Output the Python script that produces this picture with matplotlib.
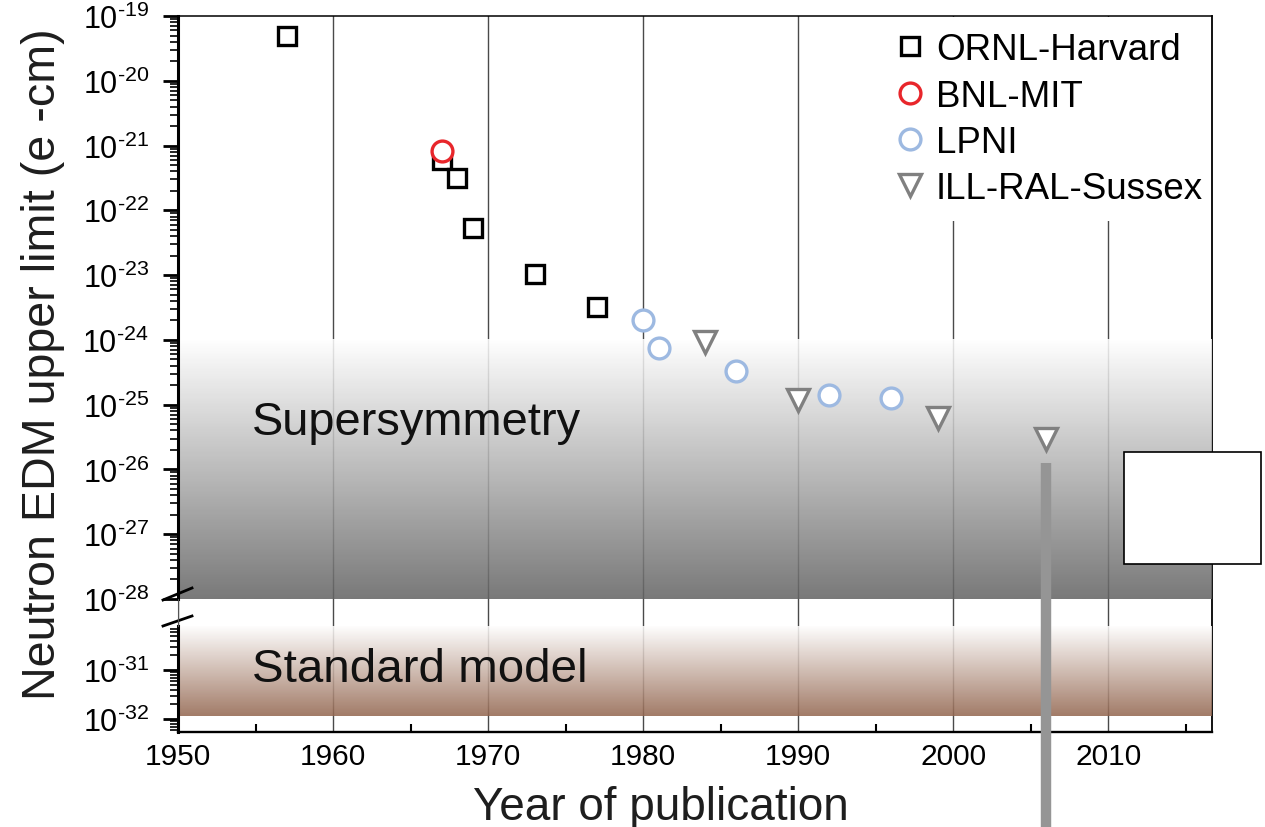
import numpy as np
import matplotlib
matplotlib.use('Agg')
import matplotlib.pyplot as plt
from matplotlib.ticker import (LogLocator, MultipleLocator, NullFormatter, FuncFormatter,
                               NullLocator, FixedLocator)
from matplotlib.patches import Rectangle
from matplotlib.lines import Line2D
from matplotlib.transforms import blended_transform_factory

MAIN = 'Liberation Sans'
plt.rcParams['font.family'] = [MAIN, 'DejaVu Sans']
plt.rcParams['mathtext.fontset'] = 'custom'
plt.rcParams['mathtext.rm'] = MAIN
plt.rcParams['mathtext.default'] = 'regular'

# ---------------- data ----------------
ornl_years = [1957, 1967, 1968, 1969, 1973, 1977]
ornl_limits = [5.0e-20, 6.0e-22, 3.2e-22, 5.3e-23, 1.05e-23, 3.2e-24]

bnl_years = [1967]
bnl_limits = [8.3e-22]

lpni_years = [1980, 1981, 1986, 1992, 1996]
lpni_limits = [2.0e-24, 7.6e-25, 3.3e-25, 1.4e-25, 1.27e-25]

ill_years = [1984, 1990, 1999, 2006]
ill_limits = [9.3e-25, 1.2e-25, 6.2e-26, 2.95e-26]

series_labels = ['ORNL-Harvard', 'BNL-MIT', 'LPNI', 'ILL-RAL-Sussex']

upper_ylim = (1e-28, 1e-19)
lower_ylim = (10 ** -32.265, 10 ** -30.10)
xlim = (1950, 2016.7)
susy_band = (1e-28, 1e-24)          # gradient: white at top -> gray at bottom
sm_band_low = 1.15e-32               # standard model band lower edge
bar_year = 2006

# ---------------- figure ----------------
W, H = 1265, 828
fig = plt.figure(figsize=(W / 100, H / 100), dpi=100)

def fx(px):
    return px / W

def fy(py):
    return 1 - py / H

L, R = 178, 1212
ax_bg = fig.add_axes([fx(L), fy(733), fx(R - L), (733 - 17) / H])
ax_up = fig.add_axes([fx(L), fy(600), fx(R - L), (600 - 17) / H], sharex=ax_bg)
ax_lo = fig.add_axes([fx(L), fy(733), fx(R - L), (733 - 627) / H], sharex=ax_bg)

# background axes: grid, x axis, frame
ax_bg.set_xlim(*xlim)
ax_bg.set_ylim(0, 1)
ax_bg.yaxis.set_major_locator(NullLocator())
ax_bg.xaxis.set_major_locator(FixedLocator(np.arange(1950, 2011, 10)))
ax_bg.xaxis.set_minor_locator(FixedLocator(np.arange(1955, 2016, 10)))
ax_bg.xaxis.set_major_formatter(FuncFormatter(lambda v, p: '%d' % v))
ax_bg.tick_params(axis='x', which='major', length=0, pad=7, labelsize=21.5, labelcolor='black')
ax_bg.tick_params(axis='x', which='minor', direction='in', length=5.5, width=1.5, color='black')
ax_bg.grid(True, axis='x', which='major', color='#4a4a4a', linewidth=1.0)
ax_bg.spines['left'].set_visible(False)
ax_bg.spines['top'].set_linewidth(1.1)
ax_bg.spines['right'].set_linewidth(1.3)
ax_bg.spines['bottom'].set_linewidth(1.7)
ax_bg.set_axisbelow(True)

def sup_fmt(v, pos):
    e = int(round(np.log10(v)))
    return r'$10^{\text{-}%d}$' % (-e)

for ax, ylim in ((ax_up, upper_ylim), (ax_lo, lower_ylim)):
    ax.set_facecolor('none')
    ax.set_yscale('log')
    ax.set_ylim(*ylim)
    for s in ('top', 'right', 'bottom'):
        ax.spines[s].set_visible(False)
    ax.spines['left'].set_linewidth(2.2)
    ax.tick_params(axis='x', which='both', bottom=False, labelbottom=False)
    e_lo = int(np.ceil(np.log10(ylim[0]) - 1e-9))
    e_hi = int(np.floor(np.log10(ylim[1]) + 1e-9))
    ax.yaxis.set_major_locator(FixedLocator(10.0 ** np.arange(e_lo, e_hi + 1)))
    ax.yaxis.set_minor_locator(LogLocator(base=10, subs=np.arange(2, 10), numticks=30))
    ax.yaxis.set_major_formatter(FuncFormatter(sup_fmt))
    ax.yaxis.set_minor_formatter(NullFormatter())
    ax.tick_params(axis='y', which='major', direction='out', length=11, width=2.0, pad=10,
                   labelsize=22, labelcolor='black')
    ax.tick_params(axis='y', which='minor', direction='out', length=6, width=1.2)

def log_frac(ax, v):
    lo, hi = np.log10(ax.get_ylim())
    return (np.log10(v) - lo) / (hi - lo)

def gradient(ax, y0, y1, color, alpha=0.86):
    n = 256
    t = np.linspace(0, 1, n)[:, None]          # 0 at top, 1 at bottom
    c = np.array(matplotlib.colors.to_rgb(color))
    rgb = (1 - t) * np.ones(3) + t * c
    img = np.concatenate([rgb, np.full((n, 1), alpha)], axis=1)[:, None, :]
    ax.imshow(img, extent=(0, 1, y0, y1), transform=ax.transAxes, aspect='auto',
              interpolation='bilinear', origin='upper', zorder=0)

gradient(ax_up, log_frac(ax_up, susy_band[0]), log_frac(ax_up, susy_band[1]), '#636363')
gradient(ax_lo, log_frac(ax_lo, sm_band_low), 1.0, '#93664f')
ax_up.set_xlim(*xlim)

# region labels
ax_up.text(0.0716, 0.283, 'Supersymmetry', transform=ax_up.transAxes, fontsize=33.8,
           ha='left', va='baseline', color='#111111')
ax_lo.text(0.0716, 0.481, 'Standard model', transform=ax_lo.transAxes, fontsize=34.2,
           ha='left', va='baseline', color='#111111')

# data series
mew = 2.4
h1, = ax_up.plot(ornl_years, ornl_limits, ls='none', marker='s', ms=13.5, mew=mew,
                 mfc='white', mec='black', zorder=4)
h2, = ax_up.plot(bnl_years, bnl_limits, ls='none', marker='o', ms=15, mew=mew,
                 mfc='white', mec='#e8262b', zorder=5)
h3, = ax_up.plot(lpni_years, lpni_limits, ls='none', marker='o', ms=15, mew=mew,
                 mfc='white', mec='#9db9e1', zorder=4)
h4, = ax_up.plot(ill_years, ill_limits, ls='none', marker='v', ms=16, mew=mew,
                 mfc='white', mec='#808080', zorder=4)

# white panel behind the legend (hides grid lines there)
ax_up.add_patch(Rectangle((fx(885), fy(222)), fx(1211 - 885), (222 - 18) / H,
                          transform=fig.transFigure, facecolor='white', edgecolor='none',
                          zorder=5))
leg = ax_up.legend([h1, h2, h3, h4], series_labels, loc='upper right',
                   bbox_to_anchor=(fx(1211), fy(25)), bbox_transform=fig.transFigure,
                   fontsize=26.5, frameon=False, borderpad=0.22,
                   handlelength=0.8, handletextpad=0.3, labelspacing=0.31,
                   borderaxespad=0)
leg.set_zorder(6)

# axis break marks and gap spine
for (x0, y0, x1, y1) in ((163, 601, 192, 589), (163, 627, 192, 617)):
    fig.add_artist(Line2D([fx(x0), fx(x1)], [fy(y0), fy(y1)], transform=fig.transFigure,
                          color='black', lw=2.0, zorder=7))
fig.add_artist(Line2D([fx(177.5), fx(177.5)], [fy(600), fy(627)], transform=fig.transFigure,
                      color='#555555', lw=0.8, zorder=7))

# axis titles
fig.text(fx(55), fy(364), 'Neutron EDM upper limit (e -cm)', rotation=90,
         rotation_mode='anchor', ha='center', va='baseline', fontsize=33.6, color='#1e1e1e')
fig.text(fx(661), fy(820), 'Year of publication', ha='center', va='baseline',
         fontsize=33, color='#1e1e1e')

# gray vertical bar below the 2006 point
btr = blended_transform_factory(ax_bg.transData, fig.transFigure)
fig.add_artist(Line2D([bar_year, bar_year], [fy(464), 0], transform=btr,
                      color='#959595', lw=7.5, solid_capstyle='butt', zorder=8))

# white box at right
fig.add_artist(Rectangle((fx(1124), fy(565)), fx(137), 112 / H, transform=fig.transFigure,
                         facecolor='white', edgecolor='black', lw=1.2, zorder=9))

fig.savefig('out.png', dpi=100)
